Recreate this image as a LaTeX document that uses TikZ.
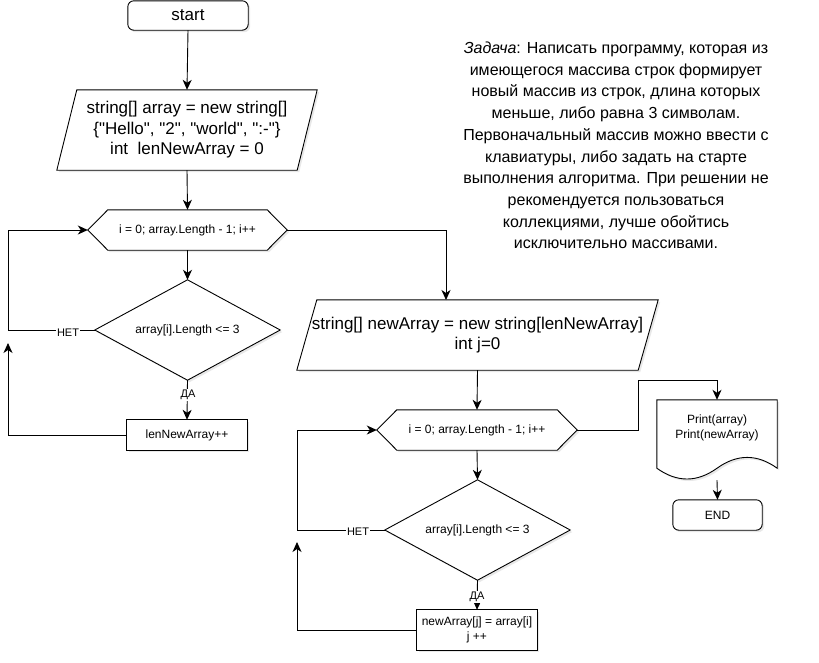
\documentclass[tikz,border=0pt]{standalone}
\usepackage{fontspec}
\setmainfont{Liberation Sans}[Ligatures=TeXOff]
\usetikzlibrary{arrows.meta,calc,shadows,backgrounds}
\begin{document}
\begin{tikzpicture}[x=1pt,y=-1pt,
  txt/.style={inner sep=0pt, align=center, font=\fontsize{12}{14.4}\selectfont},
  big/.style={font=\fontsize{17}{20.5}\selectfont},
  shp/.style={draw=black, line width=0.9pt, fill=white,
    drop shadow={shadow xshift=2pt, shadow yshift=-2pt, opacity=0.18}},
  conn/.style={draw=black, line width=0.9pt, -{Stealth[length=10pt,width=9pt,inset=3pt]}},
  lbl/.style={fill=white, inner sep=1pt, font=\fontsize{11}{13}\selectfont}]
\useasboundingbox (0,0) rectangle (819,662);

% ---- nodes (text) ----
\node[txt, big, minimum width=120pt, minimum height=29pt] (start) at (188,15.5) {start};
\node[txt, big, minimum width=260pt, minimum height=80pt] (p1) at (187,130)
  {string[] array = new string[]\\\{"Hello", "2", "world", ":-"\}\\int\ \ lenNewArray = 0};
\node[txt, minimum width=199pt, minimum height=40pt] (h1) at (187.5,230) {i = 0; array.Length - 1; i++};
\node[txt, minimum width=185pt, minimum height=100pt] (d1) at (187.5,330) {array[i].Length <= 3};
\node[txt, minimum width=120pt, minimum height=30pt] (b1) at (187,435) {lenNewArray++};

\node[txt, big, minimum width=361pt, minimum height=70pt] (p2) at (477.5,335)
  {string[] newArray = new string[lenNewArray]\\int j=0};
\node[txt, minimum width=200pt, minimum height=40pt] (h2) at (477,430) {i = 0; array.Length - 1; i++};
\node[txt, minimum width=185pt, minimum height=100pt] (d2) at (477.5,530) {array[i].Length <= 3};
\node[txt, minimum width=120pt, minimum height=40pt] (b2) at (477,630) {newArray[j] = array[i]\\j ++};

\node[txt, minimum width=120pt, minimum height=80pt] (doc) at (717,440) {};
\node[txt] (doctext) at (717,428) {Print(array)\\Print(newArray)};
\node[txt, minimum width=89pt, minimum height=30pt] (end) at (717.5,515) {END};

\node[align=center, inner sep=0pt, font=\fontsize{16}{21.7}\selectfont] (task) at (616,145.5)
  {\textit{Задача}: Написать программу, которая из\\
   имеющегося массива строк формирует\\
   новый массив из строк, длина которых\\
   меньше, либо равна 3 символам.\\
   Первоначальный массив можно ввести с\\
   клавиатуры, либо задать на старте\\
   выполнения алгоритма. При решении не\\
   рекомендуется пользоваться\\
   коллекциями, лучше обойтись\\
   исключительно массивами.};

% ---- outlines ----
\begin{scope}[on background layer]
\fill[white] (0,0) rectangle (819,662);
\draw[shp, rounded corners=6pt] (start.north west) rectangle (start.south east);
\draw[shp] ([xshift=20pt]p1.north west) -- (p1.north east) -- ([xshift=-20pt]p1.south east) -- (p1.south west) -- cycle;
\draw[shp] (h1.west) -- ([xshift=20pt]h1.north west) -- ([xshift=-20pt]h1.north east) -- (h1.east)
  -- ([xshift=-20pt]h1.south east) -- ([xshift=20pt]h1.south west) -- cycle;
\draw[shp] (d1.north) -- (d1.east) -- (d1.south) -- (d1.west) -- cycle;
\draw[shp] (b1.north west) rectangle (b1.south east);

\draw[shp] ([xshift=20pt]p2.north west) -- (p2.north east) -- ([xshift=-20pt]p2.south east) -- (p2.south west) -- cycle;
\draw[shp] (h2.west) -- ([xshift=20pt]h2.north west) -- ([xshift=-20pt]h2.north east) -- (h2.east)
  -- ([xshift=-20pt]h2.south east) -- ([xshift=20pt]h2.south west) -- cycle;
\draw[shp] (d2.north) -- (d2.east) -- (d2.south) -- (d2.west) -- cycle;
\draw[shp] (b2.north west) rectangle (b2.south east);

\draw[shp] (doc.north west) -- (doc.north east) -- ($(doc.south east)+(0,-12)$)
  .. controls ($(doc.south east)+(-20,-26.4)$) and ($(doc.south east)+(-40,-26.4)$) .. ($(doc.south)+(0,-12)$)
  .. controls ($(doc.south)+(-20,2.4)$) and ($(doc.south)+(-40,2.4)$) .. ($(doc.south west)+(0,-12)$) -- cycle;
\draw[shp, rounded corners=6pt] (end.north west) rectangle (end.south east);
\end{scope}

% ---- connectors ----
\coordinate (l1) at (8,0);
\coordinate (l1b) at (8,343);
\coordinate (p2in) at (446,300);
\coordinate (l2) at (297,0);
\coordinate (l2b) at (297,542);
\coordinate (r2) at (638,380);

\draw[conn] (start.south) -- (p1.north);
\draw[conn] (p1.south) -- (h1.north);
\draw[conn] (h1.south) -- (d1.north);
\draw[conn] (d1.south) -- (b1.north);
\draw[conn] (d1.west) -- (d1.west -| l1) -- (h1.west -| l1) -- (h1.west);
\draw[conn] (b1.west) -| (l1b);
\draw[conn] (h1.east) -| (p2in);

\draw[conn] (p2.south) -- (h2.north);
\draw[conn] (h2.south) -- (d2.north);
\draw[conn] (d2.south) -- (b2.north);
\draw[conn] (d2.west) -- (d2.west -| l2) -- (h2.west -| l2) -- (h2.west);
\draw[conn] (b2.west) -| (l2b);
\draw[conn] (h2.east) -| (r2) -| (doc.north);
\draw[conn] (doc.south) -- (end.north);

\node[lbl] (net1) at (68,333) {НЕТ};
\node[lbl] (da1) at (188,395) {ДА};
\node[lbl] (net2) at (358,532) {НЕТ};
\node[lbl] (da2) at (477,597) {ДА};
\end{tikzpicture}
\end{document}
